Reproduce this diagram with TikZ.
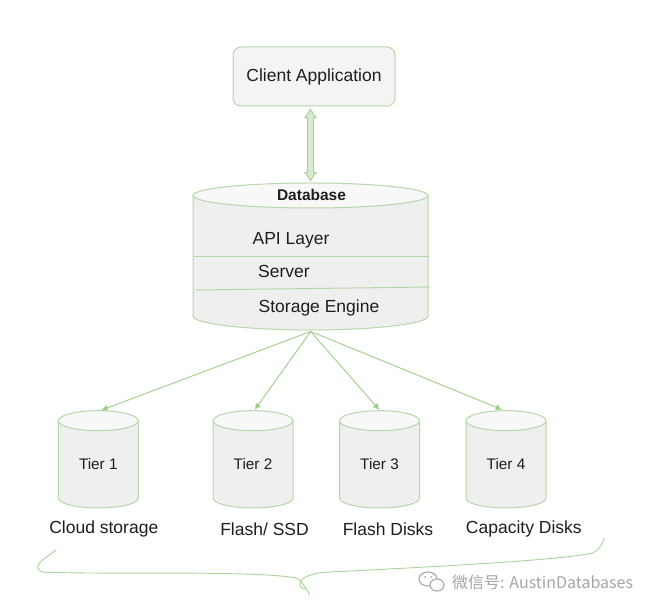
\documentclass[tikz,border=0pt]{standalone}
\usepackage{fontspec}
\setmainfont{Liberation Sans}
\newfontfamily\cjk{Noto Sans CJK SC}
\usetikzlibrary{arrows.meta}
\definecolor{gbox}{HTML}{B6D7A8}
\definecolor{garrow}{HTML}{9FCD8A}
\definecolor{gdbl}{HTML}{D9EAD3}
\definecolor{gdbledge}{HTML}{A9D18E}
\definecolor{gbrace}{HTML}{A8D59A}
\definecolor{cfill}{HTML}{EFEFEF}
\definecolor{ctop}{HTML}{F8F8F8}
\definecolor{txt}{HTML}{1E1E1E}
\definecolor{wm}{HTML}{A6A6A6}
\tikzset{
  clientbox/.style={draw=gbox, fill=cfill!70!white, rounded corners=8pt, line width=1pt,
    minimum width=162pt, minimum height=59pt, text=txt, font=\fontsize{17.5}{20}\selectfont},
  bigtxt/.style={text=txt, font=\fontsize{17.5}{20}\selectfont, inner sep=0pt},
  tiertxt/.style={text=txt, font=\fontsize{15.3}{18}\selectfont, inner sep=0pt},
  dbtitle/.style={text=txt, font=\fontsize{15.5}{18}\selectfont\bfseries, inner sep=0pt},
  cylline/.style={draw=gbox, line width=1pt},
  tierarrow/.style={draw=garrow, line width=0.9pt, -{Triangle[length=6pt,width=5.5pt]}},
  dblarrow/.style={draw=gdbledge, fill=gdbl, line width=0.9pt, line join=miter},
  bracestyle/.style={draw=gbrace, line width=0.9pt},
}
\begin{document}
\begin{tikzpicture}[x=1pt,y=1pt]
\useasboundingbox[fill=white] (0,0) rectangle (653,610);

% Client application
\node[clientbox] (client) at (314,533.5) {Client Application};

% Database cylinder
\fill[cfill] (193,414.5) -- (193,294) arc[start angle=180,end angle=360,x radius=117.5,y radius=14] -- (428,414.5) -- cycle;
\draw[cylline] (193,414.5) -- (193,294) arc[start angle=180,end angle=360,x radius=117.5,y radius=14] -- (428,414.5);
\draw[cylline, fill=ctop] (310.5,414.5) ellipse[x radius=117.5, y radius=12.5];
\draw[cylline] (193,353) -- (428,353);
\draw[cylline] (196,320) -- (430,323);
\coordinate (dbtop) at (310.5,427);
\coordinate (dbbot) at (310.7,278.5);
\node[dbtitle] (dbname) at (311.5,415) {Database};
\node[bigtxt] (api) at (291,370) {API Layer};
\node[bigtxt] (server) at (284,339) {Server};
\node[bigtxt] (engine) at (319,302) {Storage Engine};

% double arrow (outlined)
\draw[dblarrow] ([yshift=-3pt]client.south -| dbtop) -- ++(5.5,-8) -- ++(-2.5,0) -- ++(0,-55) -- ++(2.5,0)
  -- ++(-5.5,-8) -- ++(-5.5,8) -- ++(2.5,0) -- ++(0,55) -- ++(-2.5,0) -- cycle;

% Tier cylinders
\foreach \n/\cx in {1/98.3, 2/253, 3/379.5, 4/506}{
  \fill[cfill] (\cx-40,189.3) -- (\cx-40,112) arc[start angle=180,end angle=360,x radius=40,y radius=10] -- (\cx+40,189.3) -- cycle;
  \draw[cylline] (\cx-40,189.3) -- (\cx-40,112) arc[start angle=180,end angle=360,x radius=40,y radius=10] -- (\cx+40,189.3);
  \draw[cylline, fill=ctop] (\cx,189.3) ellipse[x radius=40, y radius=10];
  \node[tiertxt] (tier\n) at (\cx,146) {Tier \n};
}
\coordinate (t1top) at (101.7,200);
\coordinate (t2top) at (255,200.5);
\coordinate (t3top) at (379,200.5);
\coordinate (t4top) at (501.7,200.5);

\foreach \n in {1,2,3,4}{
  \draw[tierarrow] (dbbot) -- (t\n top);
}

% labels
\node[bigtxt] (lab1) at (103.8,81) {Cloud storage};
\node[bigtxt] (lab2) at (264.5,81) {Flash/ SSD};
\node[bigtxt] (lab3) at (388,81) {Flash Disks};
\node[bigtxt] (lab4) at (523.8,81) {Capacity Disks};

% hand-drawn brace
\draw[bracestyle] (56,60) .. controls (46,52) and (30,44) .. (42,38)
  .. controls (110,35) and (250,40) .. (297,32) .. controls (302,28) and (306,22) .. (310,15);
\draw[bracestyle] (330,38) .. controls (312,37) and (300,33) .. (300,26)
  .. controls (300,22) and (304,20) .. (306,22);
\draw[bracestyle] (330,38) .. controls (450,44) and (560,50) .. (593,57)
  .. controls (600,61) and (603,67) .. (604,72);

% watermark
\draw[wm, line width=1.1pt] (428,31) ellipse[x radius=9, y radius=7];
\draw[wm, line width=1.1pt, fill=white] (437,25) ellipse[x radius=7, y radius=6];
\fill[wm] (425,33) circle (1pt) (431,33) circle (1pt);
\node[anchor=west, text=wm, font=\cjk\fontsize{16}{19}\selectfont, inner sep=0pt] (wmtext) at (452,28) {微信号: AustinDatabases};
\end{tikzpicture}
\end{document}
